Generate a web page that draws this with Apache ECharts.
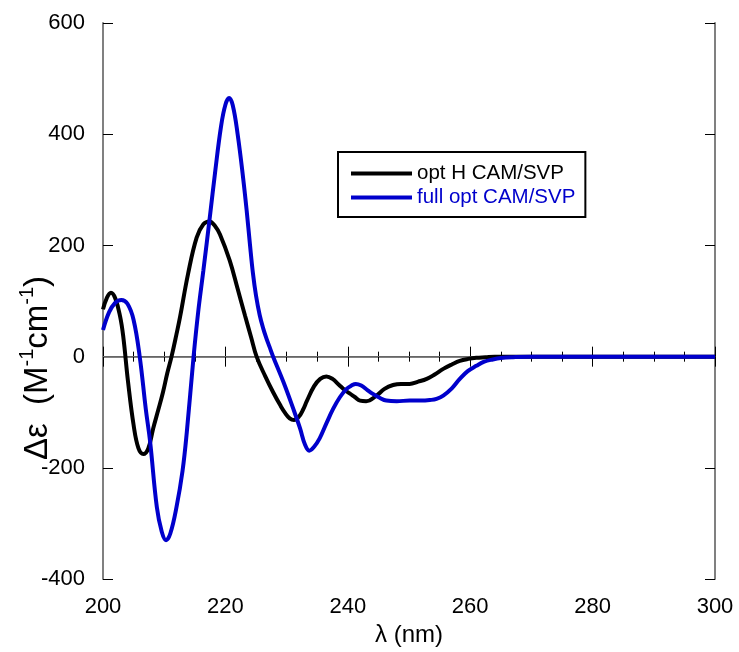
<!DOCTYPE html>
<html>
<head>
<meta charset="utf-8">
<script src="https://cdn.jsdelivr.net/npm/echarts@6/dist/echarts.min.js"></script>
<style>
html,body{margin:0;padding:0;background:#fff;}
#c{width:739px;height:652px;}
</style>
</head>
<body>
<div id="c"></div>
<script>
// ---- data ----
const seriesNames = ['opt H CAM/SVP', 'full opt CAM/SVP'];
const optH_wl = [200, 200.6, 201.3, 202, 202.8, 203.3, 204.1, 205, 205.8, 206.6, 207.4, 208.2, 209, 209.8, 210.5, 211.2, 212, 212.6, 213.9, 215.3, 216.4, 217.4, 218.3, 219.1, 220.7, 222, 223.2, 224.2, 225.1, 226.5, 227.8, 229, 229.8, 230.5, 231.2, 232, 232.7, 233.3, 234.5, 235.5, 236.5, 237.5, 238.5, 239.5, 240.3, 241.2, 242, 243, 244.7, 246, 247.4, 248.7, 250.1, 251.5, 252.9, 254.2, 255.6, 257, 258.3, 259.7, 261, 262.5, 264, 266, 270, 280, 290, 300];
const optH_de = [85, 105, 115, 105, 72, 37, -46, -123, -165, -175, -165, -129, -97, -64, -30, 0, 40, 72, 149, 214, 238, 243, 235, 220, 173, 122, 74, 35, 0, -35, -64, -88, -102, -111, -114, -108, -95, -80, -53, -40, -35.6, -40, -50, -60, -66, -73, -79, -80, -70, -58, -51, -49, -49, -45, -40, -32, -22, -14, -7.6, -4, -2, -1, 0, 0, 0, 0, 0, 0];
const full_wl = [200, 201, 202, 203, 204, 205, 206, 207, 207.7, 208.8, 209.6, 210.3, 211, 212, 213, 213.7, 214.8, 215.6, 216.4, 217.5, 218.3, 219.3, 220, 220.6, 221.2, 222, 222.9, 223.5, 224, 224.5, 225, 225.6, 226.2, 226.7, 227.2, 227.8, 229.5, 231.1, 232.2, 233, 233.7, 234.5, 235.4, 236.5, 237.6, 238.7, 239.8, 240.6, 241.3, 242.2, 243.2, 244.1, 245.2, 246.3, 248, 250.1, 252, 253.4, 254.5, 255.6, 257, 258.3, 259.6, 261, 262.3, 263.7, 265, 267, 270, 280, 290, 300];
const full_de = [48, 80, 97, 102, 95, 66, 0, -95, -153, -271, -315, -330, -318, -271, -205, -135, 0, 85, 155, 255, 330, 415, 453, 465, 452, 400, 321, 260, 203, 150, 110, 75, 50, 33, 18, 0, -46, -94, -129, -158, -169, -162, -147, -120, -94, -73, -58, -52, -49, -52, -60, -67, -74, -79, -80, -79, -79, -78, -76, -70, -57, -40, -26, -16.5, -9, -5, -2.5, -1, 0, 0, 0, 0];
const xTicks = [200, 220, 240, 260, 280, 300];
const yTicks = [-400, -200, 0, 200, 400, 600];

const pairs = (xs, ys) => xs.map((x, i) => [x, ys[i]]);
const FONT = '"Liberation Sans", Arial, sans-serif';
const BLUE = '#0000cc';

const chart = echarts.init(document.getElementById('c'), null, {renderer: 'canvas'});
const axisLine = {show: true, lineStyle: {color: '#808080', width: 2}};
const tickStyle = {color: '#000', width: 1};

chart.setOption({
  animation: false,
  backgroundColor: '#fff',
  grid: {left: 103, right: 24, top: 23, bottom: 66, containLabel: false},
  legend: {
    orient: 'vertical', left: 338, top: 152,
    data: [
      {name: seriesNames[0], textStyle: {color: '#000'}},
      {name: seriesNames[1], textStyle: {color: BLUE}}
    ],
    icon: 'rect', itemWidth: 61, itemHeight: 4, itemGap: 3,
    borderColor: '#000', borderWidth: 2, borderRadius: 0,
    padding: [11, 10, 9, 13],
    textStyle: {fontFamily: FONT, fontSize: 20.5, padding: [0, 0, 0, 0]},
    selectedMode: false
  },
  xAxis: [{
    type: 'value', min: xTicks[0], max: xTicks[xTicks.length - 1], interval: 20,
    position: 'bottom',
    name: 'λ (nm)', nameLocation: 'middle', nameGap: 43,
    nameTextStyle: {fontFamily: FONT, fontSize: 24, color: '#000'},
    axisLine: axisLine,
    axisTick: {show: true, inside: true, length: 10, lineStyle: tickStyle},
    minorTick: {show: true, splitNumber: 4, length: 5, lineStyle: tickStyle},
    axisLabel: {fontFamily: FONT, fontSize: 22, color: '#000', margin: 17},
    splitLine: {show: false}
  }, {
    type: 'value', min: xTicks[0], max: xTicks[xTicks.length - 1], interval: 20,
    position: 'top',
    axisLine: axisLine,
    axisTick: {show: true, inside: true, length: 10, lineStyle: tickStyle},
    minorTick: {show: true, splitNumber: 4, length: 5, lineStyle: tickStyle},
    axisLabel: {show: false},
    splitLine: {show: false}
  }],
  yAxis: [{
    type: 'value', min: yTicks[0], max: yTicks[yTicks.length - 1], interval: 200,
    position: 'left',
    axisLine: axisLine,
    axisTick: {show: true, inside: true, length: 10, lineStyle: tickStyle},
    axisLabel: {fontFamily: FONT, fontSize: 22, color: '#000', margin: 18},
    splitLine: {show: false}
  }, {
    type: 'value', min: yTicks[0], max: yTicks[yTicks.length - 1], interval: 200,
    position: 'right',
    axisLine: axisLine,
    axisTick: {show: true, inside: true, length: 10, lineStyle: tickStyle},
    axisLabel: {show: false},
    splitLine: {show: false}
  }],
  graphic: [{
    type: 'text',
    x: 36, y: 368,
    rotation: Math.PI / 2,
    style: {
      text: '{a|Δε  (M}{s|-1}{a|cm}{s|-1}{a|)}',
      align: 'center', verticalAlign: 'middle',
      rich: {
        a: {fontFamily: FONT, fontSize: 33, color: '#000', lineHeight: 37, verticalAlign: 'bottom'},
        s: {fontFamily: FONT, fontSize: 20, color: '#000', lineHeight: 22, verticalAlign: 'top'}
      }
    }
  }],
  series: [{
    name: seriesNames[0], type: 'line', data: pairs(optH_wl, optH_de),
    xAxisIndex: 0, yAxisIndex: 0,
    smooth: 0.4, showSymbol: false, symbol: 'none',
    lineStyle: {color: '#000', width: 4}, itemStyle: {color: '#000'}, z: 3,
    markLine: {
      silent: true, symbol: 'none', label: {show: false},
      lineStyle: {color: '#666', width: 1, type: 'solid'},
      data: [{yAxis: 0}], z: 1
    }
  }, {
    name: seriesNames[1], type: 'line', data: pairs(full_wl, full_de),
    xAxisIndex: 0, yAxisIndex: 0,
    smooth: 0.4, showSymbol: false, symbol: 'none',
    lineStyle: {color: BLUE, width: 4}, itemStyle: {color: BLUE}, z: 4
  }]
});
</script>
</body>
</html>
